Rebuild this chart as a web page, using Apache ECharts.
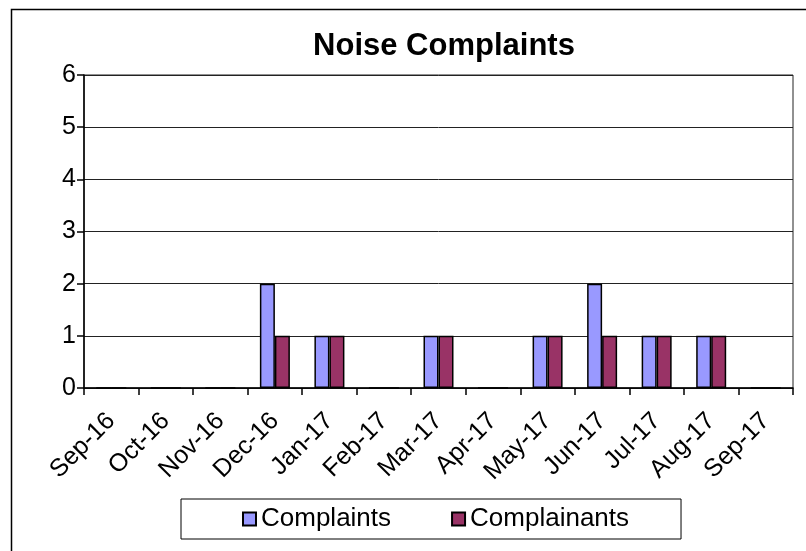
<!DOCTYPE html>
<html>
<head>
<meta charset="utf-8">
<script src="https://cdn.jsdelivr.net/npm/echarts@6/dist/echarts.min.js"></script>
<style>
html,body{margin:0;padding:0;background:#fff;}
#chart{width:806px;height:551px;}
</style>
</head>
<body>
<div id="chart"></div>
<script>
var categories = ['Sep-16','Oct-16','Nov-16','Dec-16','Jan-17','Feb-17','Mar-17','Apr-17','May-17','Jun-17','Jul-17','Aug-17','Sep-17'];
var complaints = [0,0,0,2,1,0,1,0,1,2,1,1,0];
var complainants = [0,0,0,1,1,0,1,0,1,1,1,1,0];
var yTicks = {min:0, max:6, interval:1};

var FONT = 'Arial, "Liberation Sans", sans-serif';
var chart = echarts.init(document.getElementById('chart'), null, {renderer:'canvas'});
chart.setOption({
  animation:false,
  backgroundColor:'#fff',
  title:{
    text:'Noise Complaints', left:439, top:26, textAlign:'center',
    textStyle:{fontFamily:FONT, fontSize:31, fontWeight:'bold', color:'#000'}
  },
  graphic:[{
    type:'rect', left:9, top:7, shape:{width:900, height:600},
    style:{fill:'none', stroke:'#000', lineWidth:1.5}, silent:true, z:-1
  }],
  legend:{
    left:181, top:499,
    padding:[7,52,7,61],
    borderColor:'#000', borderWidth:1,
    itemGap:60, itemWidth:13, itemHeight:13,
    icon:'rect',
    textStyle:{fontFamily:FONT, fontSize:26, color:'#000'},
    data:['Complaints','Complainants']
  },
  grid:{left:84, right:13, top:75, bottom:163, show:true, borderColor:'#222', borderWidth:1, backgroundColor:'transparent'},
  xAxis:{
    type:'category', data:categories, boundaryGap:true,
    axisLine:{lineStyle:{color:'#000', width:1.5}},
    axisTick:{show:true, length:7, alignWithLabel:false, lineStyle:{color:'#000', width:1.5}},
    axisLabel:{rotate:45, fontFamily:FONT, fontSize:25, color:'#000', margin:29, interval:0}
  },
  yAxis:{
    type:'value', min:yTicks.min, max:yTicks.max, interval:yTicks.interval,
    axisLine:{show:true, lineStyle:{color:'#000', width:1.5}},
    axisTick:{show:true, length:7, lineStyle:{color:'#000', width:1.5}},
    axisLabel:{fontFamily:FONT, fontSize:25, color:'#000', margin:8},
    splitLine:{lineStyle:{color:'#222', width:1}}
  },
  series:[
    {name:'Complaints', type:'bar', data:complaints, barWidth:15, barGap:'0%',
     itemStyle:{color:'#9999FF', borderColor:'#000', borderWidth:1.5}},
    {name:'Complainants', type:'bar', data:complainants, barWidth:15, barGap:'0%',
     itemStyle:{color:'#993366', borderColor:'#000', borderWidth:1.5}}
  ]
});
</script>
</body>
</html>
